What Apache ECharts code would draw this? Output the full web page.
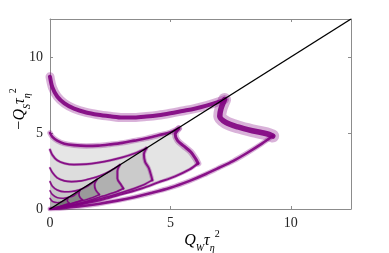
<!DOCTYPE html>
<html><head><meta charset="utf-8">
<script src="https://cdn.jsdelivr.net/npm/echarts@6/dist/echarts.min.js"></script>
<style>html,body{margin:0;padding:0;background:#fff}#c{width:389px;height:253px}</style>
</head><body><div id="c"></div>
<script>
const X_TICKS = [0, 5, 10];
const Y_TICKS = [0, 5, 10];
const DIAG = [[0, 0], [12.5, 12.5]];

// loop 1 (outermost, not filled)
const L1_TOP = [[0,8.7],[0.1,8.0],[0.3,7.4],[0.6,6.95],[1,6.6],[1.5,6.35],[2,6.2],[2.5,6.1],[3,6.02],[3.5,6.02],[4,6.08],[4.5,6.17],[5,6.3],[5.5,6.45],[6,6.6],[6.5,6.8],[7,7.05],[7.25,7.2]];
const L1_DOWN = [[7.25,7.2],[7.1,6.6],[7.05,6.1],[7.3,5.7],[7.8,5.4],[8.4,5.15],[9.0,4.95],[9.25,4.8]];
const L1_LOW = [[9.25,4.8],[8.8,4.3],[8.2,3.7],[7.6,3.15],[7,2.7],[6.4,2.25],[5.8,1.85],[5,1.4],[4.2,1.05],[3.5,0.78],[2.8,0.55],[2,0.33],[1.2,0.16],[0.5,0.05],[0,0]];
// loop 2
const L2_TOP = [[0,5.0],[0.1,4.75],[0.3,4.5],[0.6,4.3],[1,4.2],[1.5,4.15],[2,4.17],[2.5,4.25],[3,4.35],[3.5,4.5],[4,4.65],[4.5,4.85],[5,5.05],[5.35,5.3]];
const L2_DOWN = [[5.35,5.3],[5.2,4.9],[5.3,4.5],[5.55,4.15],[5.85,3.75],[6.05,3.3],[6.15,3.0]];
const L2_LOW = [[6.15,3.0],[5.8,2.6],[5.2,2.15],[4.5,1.75],[3.8,1.35],[3,0.98],[2.2,0.62],[1.4,0.34],[0.7,0.14],[0,0]];
// loop 3
const L3_TOP = [[0,3.9],[0.1,3.55],[0.3,3.2],[0.6,3.0],[1,2.92],[1.5,2.95],[2,3.05],[2.5,3.2],[3,3.4],[3.5,3.65],[4.0,4.0]];
const L3_DOWN = [[4.0,4.0],[3.9,3.6],[3.95,3.1],[4.1,2.7],[4.2,2.2],[4.25,1.9]];
const L3_LOW = [[4.25,1.9],[3.9,1.6],[3.3,1.25],[2.6,0.9],[1.9,0.6],[1.2,0.33],[0.6,0.14],[0,0]];
// loop 4
const L4_TOP = [[0,2.7],[0.1,2.4],[0.3,2.05],[0.6,1.85],[0.9,1.8],[1.3,1.85],[1.7,2.0],[2.1,2.2],[2.5,2.5],[2.9,2.9]];
const L4_DOWN = [[2.9,2.9],[2.8,2.5],[2.8,2.0],[2.95,1.6],[3.05,1.35]];
const L4_LOW = [[3.05,1.35],[2.7,1.1],[2.2,0.85],[1.6,0.55],[1.0,0.3],[0.5,0.12],[0,0]];
// loop 5
const L5_TOP = [[0,1.8],[0.1,1.5],[0.3,1.25],[0.6,1.13],[0.9,1.15],[1.2,1.25],[1.5,1.45],[1.95,1.95]];
const L5_DOWN = [[1.95,1.95],[1.85,1.6],[1.9,1.25],[2.05,0.95]];
const L5_LOW = [[2.05,0.95],[1.7,0.72],[1.2,0.48],[0.7,0.25],[0.3,0.09],[0,0]];
// loop 6
const L6_TOP = [[0,1.2],[0.1,0.95],[0.3,0.75],[0.55,0.7],[0.8,0.78],[1.0,0.9],[1.25,1.25]];
const L6_DOWN = [[1.25,1.25],[1.2,1.0],[1.25,0.75],[1.35,0.6]];
const L6_LOW = [[1.35,0.6],[1.0,0.42],[0.6,0.24],[0.25,0.08],[0,0]];
// loop 7
const L7_TOP = [[0,0.7],[0.1,0.5],[0.3,0.42],[0.5,0.48],[0.75,0.75]];
const L7_DOWN = [[0.75,0.75],[0.72,0.55],[0.8,0.38]];
const L7_LOW = [[0.8,0.38],[0.5,0.22],[0.2,0.07],[0,0]];

const LOOPS = [
  {top: L1_TOP, down: L1_DOWN, low: L1_LOW, w: [4, 5.5, 2.6], f: [9, 13, 5]},
  {top: L2_TOP, down: L2_DOWN, low: L2_LOW, w: [2.6, 3, 2], f: [5.5, 6.5, 3.5]},
  {top: L3_TOP, down: L3_DOWN, low: L3_LOW, w: [1.8, 2, 1.6], f: [3, 4, 2.5]},
  {top: L4_TOP, down: L4_DOWN, low: L4_LOW, w: [1.6, 1.8, 1.5], f: [2.5, 3, 2]},
  {top: L5_TOP, down: L5_DOWN, low: L5_LOW, w: [1.5, 1.6, 1.4], f: [2.2, 2.5, 2]},
  {top: L6_TOP, down: L6_DOWN, low: L6_LOW, w: [1.4, 1.5, 1.3], f: [2, 2, 1.8]},
  {top: L7_TOP, down: L7_DOWN, low: L7_LOW, w: [1.3, 1.4, 1.2], f: [1.8, 1.8, 1.6]}
];
const UPPER_FILL = ['#e6e6e6', '#dddddd', '#d3d3d3', '#c8c8c8', '#bcbcbc', '#b0b0b0'];
const LOWER_FILL = ['#e4e4e4', '#cbcbcb', '#b0b0b0', '#9a9a9a', '#888888', '#787878'];
const PURPLE = '#800080';

// polygons for filled loops (loops 2..7)
const shapes = [], fills = [];
for (let k = 1; k < LOOPS.length; k++) {
  const L = LOOPS[k];
  shapes.push(L.top.concat([[0, 0]]));
  fills.push(UPPER_FILL[k - 1]);
  shapes.push([[0, 0]].concat(L.down, L.low));
  fills.push(LOWER_FILL[k - 1]);
}

const series = [];
series.push({
  type: 'custom', coordinateSystem: 'cartesian2d', silent: true, z: 1,
  data: shapes.map((s, i) => [0, 0, i]),
  renderItem: function (params, api) {
    const idx = params.dataIndex;
    const pts = shapes[idx].map(p => api.coord(p));
    return {type: 'polygon', shape: {points: pts}, style: {fill: fills[idx], stroke: null}};
  }
});
LOOPS.forEach((L, k) => {
  [L.top, L.down, L.low].forEach((branch, b) => {
    series.push({type: 'line', data: branch, smooth: 0.3, symbol: 'none', silent: true, z: 2,
      lineStyle: {color: PURPLE, width: L.f[b], opacity: 0.3, cap: 'round', join: 'round'}});
    series.push({type: 'line', data: branch, smooth: 0.3, symbol: 'none', silent: true, z: 3,
      lineStyle: {color: PURPLE, width: L.w[b], opacity: 0.9, cap: 'round', join: 'round'}});
  });
});
series.push({type: 'line', data: DIAG, symbol: 'none', silent: true, z: 5,
  lineStyle: {color: '#000', width: 1.4}});

const axisCol = '#8c8c8c';
const labelStyle = {color: '#262626', fontFamily: 'Liberation Serif', fontSize: 14};
function baseAxis(pos, ticks, show) {
  return {
    type: 'value', position: pos, min: 0, max: 12.5, interval: 5,
    axisLine: {show: true, onZero: false, lineStyle: {color: axisCol, width: 1}},
    axisTick: {show: true, inside: true, length: 3, lineStyle: {color: axisCol}},
    axisLabel: Object.assign({show: show, margin: 7,
      formatter: v => ticks.includes(v) ? String(v) : ''}, labelStyle),
    splitLine: {show: false}
  };
}
const chart = echarts.init(document.getElementById('c'), null, {renderer: 'canvas'});
const rich = {
  i: {fontFamily: 'Liberation Serif', fontStyle: 'italic', fontSize: 16, lineHeight: 24, verticalAlign: 'middle', color: '#262626'},
  m: {fontFamily: 'Liberation Serif', fontSize: 16, lineHeight: 24, verticalAlign: 'middle', color: '#262626'},
  s: {fontFamily: 'Liberation Serif', fontStyle: 'italic', fontSize: 10, lineHeight: 10, verticalAlign: 'bottom', color: '#262626'},
  p: {fontFamily: 'Liberation Serif', fontSize: 10, lineHeight: 10, verticalAlign: 'top', color: '#262626'}
};
chart.setOption({
  animation: false,
  grid: {left: 50, right: 38, top: 19, bottom: 44},
  xAxis: [baseAxis('bottom', X_TICKS, true), baseAxis('top', X_TICKS, false)],
  yAxis: [baseAxis('left', Y_TICKS, true), baseAxis('right', Y_TICKS, false)],
  series: series,
  graphic: [
    {type: 'text', x: 202, y: 241, silent: true,
      style: {text: '{i|Q}{s|W}{i|τ}{s|η}{p|2}', rich: rich, align: 'center', verticalAlign: 'middle'}},
    {type: 'text', x: 20, y: 109, rotation: Math.PI / 2, silent: true,
      style: {text: '{m|−}{i|Q}{s|S}{i|τ}{s|η}{p|2}', rich: rich, align: 'center', verticalAlign: 'middle'}}
  ]
});
</script></body></html>
